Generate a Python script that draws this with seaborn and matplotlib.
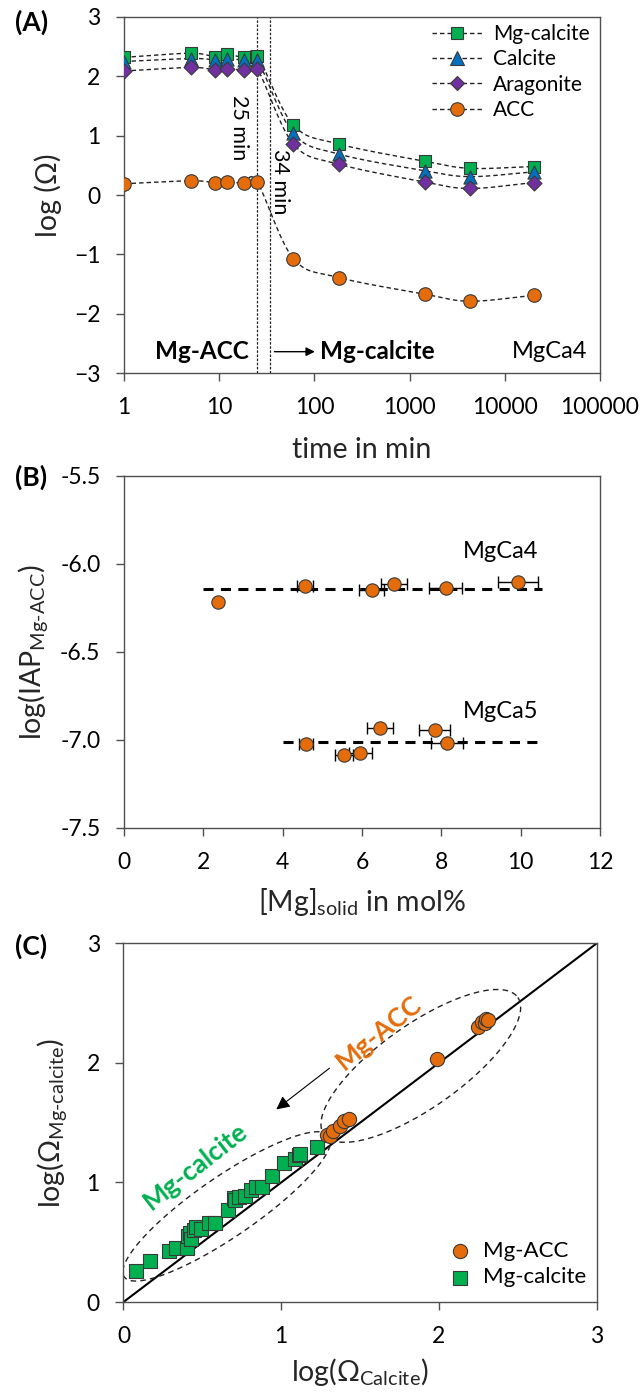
import numpy as np
import matplotlib
matplotlib.use("Agg")
import matplotlib.pyplot as plt
import seaborn as sns
from matplotlib.lines import Line2D

# ---------------- data ----------------
# (A) saturation indices versus time, experiment MgCa4
time_min = [1, 5, 9, 12, 18, 25, 60, 180, 1440, 4320, 20160]
log_omega_mgcalcite = [2.32, 2.39, 2.33, 2.37, 2.32, 2.35, 1.18, 0.86, 0.57, 0.45, 0.48]
log_omega_calcite = [2.25, 2.30, 2.28, 2.29, 2.28, 2.28, 1.04, 0.69, 0.41, 0.31, 0.39]
log_omega_aragonite = [2.09, 2.15, 2.11, 2.13, 2.11, 2.13, 0.86, 0.52, 0.22, 0.11, 0.21]
log_omega_acc = [0.19, 0.24, 0.21, 0.22, 0.20, 0.22, -1.07, -1.39, -1.67, -1.79, -1.69]
transition_min = [25, 34]
time_ticks = [1, 10, 100, 1000, 10000, 100000]

# (B) ion activity product of Mg-ACC versus Mg content of the solid
mgca4_mg = [2.36, 4.56, 6.24, 6.80, 8.11, 9.94]
mgca4_iap = [-6.215, -6.123, -6.146, -6.112, -6.136, -6.104]
mgca4_err = [0.0, 0.20, 0.31, 0.33, 0.42, 0.51]
mgca4_mean = -6.142
mgca5_mg = [4.58, 5.55, 5.95, 6.45, 7.83, 8.14]
mgca5_iap = [-7.023, -7.083, -7.075, -6.934, -6.943, -7.019]
mgca5_err = [0.18, 0.22, 0.29, 0.32, 0.39, 0.41]
mgca5_mean = -7.011

# (C) log Omega(Mg-calcite) versus log Omega(calcite)
acc_x = [1.29, 1.31, 1.33, 1.37, 1.40, 1.43, 1.99, 2.25, 2.27, 2.29, 2.30, 2.31]
acc_y = [1.40, 1.39, 1.43, 1.47, 1.51, 1.53, 2.03, 2.30, 2.34, 2.33, 2.37, 2.36]
calc_x = [0.08, 0.17, 0.29, 0.33, 0.40, 0.41, 0.42, 0.43, 0.45, 0.46, 0.49, 0.54, 0.58,
          0.66, 0.70, 0.71, 0.73, 0.77, 0.81, 0.84, 0.88, 0.94, 1.02, 1.09, 1.11, 1.12, 1.23]
calc_y = [0.26, 0.34, 0.43, 0.45, 0.45, 0.55, 0.58, 0.53, 0.60, 0.63, 0.61, 0.66, 0.66,
          0.77, 0.87, 0.85, 0.88, 0.89, 0.94, 0.96, 0.96, 1.05, 1.16, 1.20, 1.23, 1.24, 1.30]

# ---------------- style ----------------
GREEN = "#00B050"
BLUE = "#0070C0"
PURPLE = "#7030A0"
ORANGE = "#E46C0A"
EDGE = "#3a3a3a"
AXC = "#505050"

TICK_FS = 16.5
LABEL_FS = 20.5

sns.set_theme(style="ticks")
plt.rcParams.update({
    "font.family": ["Lato", "DejaVu Sans"],
    "mathtext.fontset": "custom",
    "mathtext.rm": "Lato",
    "mathtext.it": "Lato:italic",
    "mathtext.bf": "Lato:bold",
    "axes.edgecolor": AXC,
    "axes.linewidth": 1.0,
    "xtick.color": AXC,
    "ytick.color": AXC,
    "xtick.labelcolor": "black",
    "ytick.labelcolor": "black",
    "xtick.direction": "out",
    "ytick.direction": "out",
    "xtick.major.size": 6,
    "ytick.major.size": 6,
    "xtick.major.width": 1.0,
    "ytick.major.width": 1.0,
    "xtick.major.pad": 11,
    "ytick.major.pad": 11,
    "xtick.labelsize": TICK_FS,
    "ytick.labelsize": TICK_FS,
    "axes.labelsize": LABEL_FS,
    "text.color": "black",
})


def catmull_rom(u, v, n=30):
    """Smooth connecting curve through the points (uniform Catmull-Rom)."""
    P = np.column_stack([np.asarray(u, float), np.asarray(v, float)])
    P = np.vstack([2 * P[0] - P[1], P, 2 * P[-1] - P[-2]])
    t = np.linspace(0, 1, n, endpoint=False)[:, None]
    segs = []
    for i in range(1, len(P) - 2):
        p0, p1, p2, p3 = P[i - 1], P[i], P[i + 1], P[i + 2]
        segs.append(0.5 * (2 * p1 + (-p0 + p2) * t
                           + (2 * p0 - 5 * p1 + 4 * p2 - p3) * t ** 2
                           + (-p0 + 3 * p1 - 3 * p2 + p3) * t ** 3))
    segs.append(P[-2][None, :])
    return np.vstack(segs)


fig = plt.figure(figsize=(6.43, 13.93), dpi=100)
axA = fig.add_axes([0.193, 0.7322, 0.740, 0.2556])
axB = fig.add_axes([0.193, 0.4056, 0.740, 0.2527])
axC = fig.add_axes([0.192, 0.0653, 0.736, 0.2575])

for ax in (axA, axB, axC):
    for s in ax.spines.values():
        s.set_visible(True)
        s.set_color(AXC)

# ---------------- panel A ----------------
series = [
    ("Mg-calcite", log_omega_mgcalcite, "s", GREEN, 80),
    ("Calcite", log_omega_calcite, "^", BLUE, 90),
    ("Aragonite", log_omega_aragonite, "D", PURPLE, 58),
    ("ACC", log_omega_acc, "o", ORANGE, 95),
]
dash = (0, (3.2, 2.2))
for name, vals, mk, col, size in series:
    curve = catmull_rom(np.log10(time_min), vals)
    axA.plot(10 ** curve[:, 0], curve[:, 1], color="#222222", lw=1.0, ls=dash, zorder=2)
for i, (name, vals, mk, col, size) in enumerate(series):
    sns.scatterplot(x=time_min, y=vals, marker=mk, color=col, s=size,
                    edgecolor=EDGE, linewidth=0.8, ax=axA, zorder=3 + i, legend=False)

for t in transition_min:
    axA.axvline(t, color="#222222", lw=0.9, ls=(0, (2.0, 1.3)), zorder=1)

axA.set_xscale("log")
axA.set_xlim(1, 1e5)
axA.set_ylim(-3, 3)
axA.set_xticks(time_ticks)
axA.set_xticklabels([str(t) for t in time_ticks])
axA.minorticks_off()
axA.set_yticks(range(-3, 4))
axA.set_xlabel("time in min", fontsize=LABEL_FS)
axA.set_ylabel("log (Ω)", fontsize=LABEL_FS)
axA.xaxis.set_label_coords(0.5, -0.18)
axA.yaxis.set_label_coords(-0.13, 0.5)

axA.text(16.3, 1.14, "25 min", rotation=270, ha="center", va="center", fontsize=15.5)
axA.text(44, 0.22, "34 min", rotation=270, ha="center", va="center", fontsize=15.5)
axA.text(20.5, -2.64, "Mg-ACC", ha="right", va="center", fontsize=17.5, fontweight="bold")
axA.annotate("", xy=(108, -2.64), xytext=(35.5, -2.64),
             arrowprops=dict(arrowstyle="-|>", color="black", lw=1.0, mutation_scale=13))
axA.text(114, -2.64, "Mg-calcite", ha="left", va="center", fontsize=17.5, fontweight="bold")
axA.text(74000, -2.64, "MgCa4", ha="right", va="center", fontsize=17)

handles = [Line2D([0], [0], color="#222222", lw=1.0, ls=dash, marker=mk,
                  markerfacecolor=col, markeredgecolor=EDGE, markeredgewidth=0.8,
                  markersize=np.sqrt(size))
           for (name, vals, mk, col, size) in series]
axA.legend(handles, [s[0] for s in series], loc="upper right", frameon=False,
           fontsize=15, handlelength=2.4, handletextpad=0.5, labelspacing=0.26,
           bbox_to_anchor=(1.0, 1.01), borderaxespad=0.1)

# ---------------- panel B ----------------
axB.hlines(mgca4_mean, 2.0, 10.55, colors="black", lw=2.2, linestyles=(0, (3.3, 2.4)), zorder=1)
axB.hlines(mgca5_mean, 4.0, 10.55, colors="black", lw=2.2, linestyles=(0, (3.3, 2.4)), zorder=1)
for xs, ys, es in ((mgca4_mg, mgca4_iap, mgca4_err), (mgca5_mg, mgca5_iap, mgca5_err)):
    xs, ys, es = map(np.asarray, (xs, ys, es))
    m = es > 0
    axB.errorbar(xs[m], ys[m], xerr=es[m], fmt="none", ecolor="black",
                 elinewidth=1.0, capsize=4.5, capthick=1.0, zorder=2)
    sns.scatterplot(x=xs, y=ys, marker="o", color=ORANGE, s=92, edgecolor=EDGE,
                    linewidth=0.8, ax=axB, zorder=3, legend=False)

axB.set_xlim(0, 12)
axB.set_ylim(-7.5, -5.5)
axB.set_xticks(range(0, 13, 2))
axB.set_yticks([-7.5, -7.0, -6.5, -6.0, -5.5])
axB.set_yticklabels([f"{v:.1f}" for v in [-7.5, -7.0, -6.5, -6.0, -5.5]])
axB.set_xlabel(r"[Mg]$_{\mathrm{solid}}$ in mol%", fontsize=LABEL_FS)
axB.set_ylabel(r"log(IAP$_{\mathrm{Mg\text{-}ACC}}$)", fontsize=LABEL_FS)
axB.xaxis.set_label_coords(0.5, -0.165)
axB.yaxis.set_label_coords(-0.155, 0.5)
axB.text(10.45, -5.93, "MgCa4", ha="right", va="center", fontsize=17)
axB.text(10.45, -6.84, "MgCa5", ha="right", va="center", fontsize=17)

# ---------------- panel C ----------------
axC.plot([0, 3], [0, 3], color="black", lw=1.5, zorder=1)

tt = np.linspace(0, 2 * np.pi, 300)
for (cx, cy), (ax_, ay_), (bx_, by_) in (
        ((0.655, 0.800), (0.650, 0.590), (0.110, -0.205)),
        ((1.885, 1.975), (0.615, 0.572), (0.150, -0.285))):
    axC.plot(cx + ax_ * np.cos(tt) + bx_ * np.sin(tt),
             cy + ay_ * np.cos(tt) + by_ * np.sin(tt),
             color="#222222", lw=1.0, ls=(0, (4, 3)), zorder=1)

sns.scatterplot(x=calc_x, y=calc_y, marker="s", color=GREEN, s=100, edgecolor=EDGE,
                linewidth=0.8, ax=axC, zorder=3, label="Mg-calcite")
sns.scatterplot(x=acc_x, y=acc_y, marker="o", color=ORANGE, s=105, edgecolor=EDGE,
                linewidth=0.8, ax=axC, zorder=4, label="Mg-ACC")
h, l = axC.get_legend_handles_labels()
axC.legend(h[::-1], l[::-1], loc="lower right", frameon=False, fontsize=16,
           handletextpad=0.05, labelspacing=0.3, borderaxespad=0.5,
           bbox_to_anchor=(1.02, -0.015))

axC.annotate("", xy=(0.955, 1.597), xytext=(1.32, 1.97),
             arrowprops=dict(arrowstyle="-|>", color="black", lw=0.8, mutation_scale=20))
axC.text(1.62, 2.25, "Mg-ACC", color=ORANGE, rotation=39, ha="center", va="center",
         fontsize=19, fontweight="bold", rotation_mode="anchor")
axC.text(0.46, 1.14, "Mg-calcite", color=GREEN, rotation=38, ha="center", va="center",
         fontsize=19, fontweight="bold", rotation_mode="anchor")

axC.set_xlim(0, 3)
axC.set_ylim(0, 3)
axC.set_xticks(range(4))
axC.set_yticks(range(4))
axC.set_xlabel(r"log(Ω$_{\mathrm{Calcite}}$)", fontsize=LABEL_FS)
axC.set_ylabel(r"log(Ω$_{\mathrm{Mg\text{-}calcite}}$)", fontsize=LABEL_FS)
axC.xaxis.set_label_coords(0.5, -0.15)
axC.yaxis.set_label_coords(-0.115, 0.5)

# panel letters
fig.text(0.049, 0.984, "(A)", fontsize=19, fontweight="bold", ha="center", va="center")
fig.text(0.049, 0.657, "(B)", fontsize=19, fontweight="bold", ha="center", va="center")
fig.text(0.049, 0.321, "(C)", fontsize=19, fontweight="bold", ha="center", va="center")

fig.savefig("out.png", dpi=100)
